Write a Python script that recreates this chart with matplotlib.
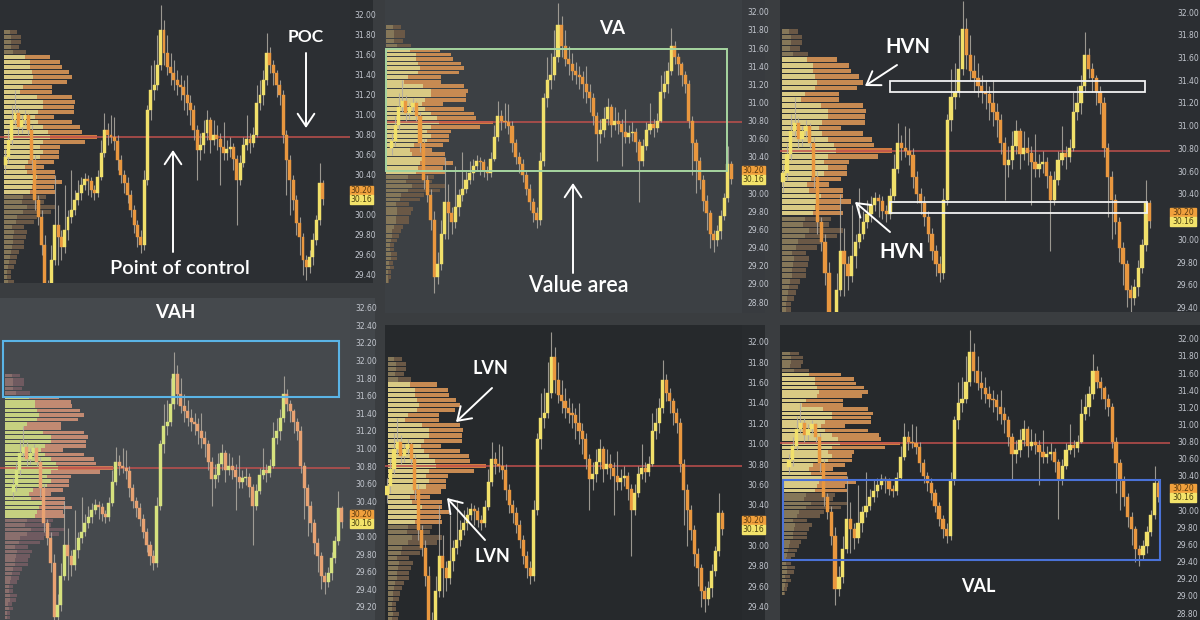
import matplotlib
matplotlib.use('Agg')
import matplotlib.pyplot as plt
from matplotlib.patches import Rectangle
from matplotlib.transforms import blended_transform_factory
import numpy as np

W, H = 1200, 620

# ---------------- data ----------------
first_open = 30.50
closes = [30.58, 30.75, 30.95, 31.02, 30.88, 30.95, 31.00, 30.85, 30.55, 30.15,
          29.98, 29.70, 29.08, 29.22, 29.55, 29.90, 29.78, 29.68, 29.85, 29.98,
          30.05, 30.15, 30.22, 30.30, 30.36, 30.34, 30.25, 30.22, 30.38, 30.62,
          30.85, 30.80, 30.78, 30.74, 30.55, 30.40, 30.32, 30.20, 30.05, 29.90,
          29.78, 29.70, 30.35, 31.05, 31.25, 31.30, 31.50, 31.85, 31.62, 31.48,
          31.42, 31.35, 31.30, 31.28, 31.20, 31.12, 31.05, 30.85, 30.65, 30.70,
          30.82, 30.95, 30.75, 30.80, 30.76, 30.68, 30.62, 30.66, 30.68, 30.56,
          30.35, 30.52, 30.70, 30.76, 30.72, 30.80, 31.12, 31.20, 31.35, 31.62,
          31.50, 31.42, 31.30, 31.20, 30.80, 30.55, 30.35, 30.15, 29.92, 29.78,
          29.55, 29.48, 29.58, 29.75, 29.95, 30.32, 30.16]
highs = [30.66, 30.85, 31.10, 31.25, 31.08, 31.00, 31.05, 31.02, 30.90, 30.60,
         30.20, 30.05, 29.80, 29.35, 29.70, 30.40, 30.10, 29.85, 30.30, 30.05,
         30.45, 30.25, 30.35, 30.38, 30.42, 30.40, 30.38, 30.30, 30.45, 30.75,
         31.02, 30.92, 31.00, 30.98, 30.80, 30.60, 30.45, 30.38, 30.25, 30.10,
         29.95, 29.85, 30.45, 31.10, 31.50, 31.55, 31.80, 32.10, 31.95, 31.80,
         31.62, 31.55, 31.45, 31.40, 31.35, 31.40, 31.20, 31.10, 30.90, 30.82,
         30.95, 31.05, 30.98, 30.95, 30.90, 30.82, 30.93, 30.75, 30.78, 30.72,
         30.60, 30.60, 30.78, 31.00, 30.82, 30.88, 31.30, 31.35, 31.45, 31.82,
         31.68, 31.55, 31.45, 31.35, 31.25, 30.85, 30.60, 30.40, 30.20, 29.98,
         29.82, 29.60, 29.65, 29.82, 30.00, 30.52, 30.35]
lows = [30.42, 30.52, 30.70, 30.90, 30.80, 30.82, 30.90, 30.80, 30.45, 30.05,
        29.90, 29.60, 28.90, 29.00, 29.15, 29.50, 29.50, 29.55, 29.62, 29.75,
        29.92, 30.00, 30.10, 30.15, 30.25, 30.20, 30.18, 30.15, 30.18, 30.35,
        30.58, 30.70, 30.72, 30.65, 30.45, 30.32, 30.22, 30.12, 29.98, 29.82,
        29.68, 29.62, 29.65, 30.30, 30.95, 31.15, 31.25, 31.45, 31.50, 31.40,
        31.30, 31.25, 31.20, 31.15, 31.05, 31.00, 30.90, 30.75, 30.35, 30.55,
        30.62, 30.75, 30.62, 30.70, 30.65, 30.30, 30.55, 30.55, 30.58, 30.45,
        29.90, 30.30, 30.48, 30.65, 30.62, 30.68, 30.78, 31.05, 31.10, 31.30,
        31.42, 31.30, 31.18, 31.10, 30.72, 30.20, 30.00, 30.05, 29.80, 29.60,
        29.40, 29.35, 29.42, 29.50, 29.70, 29.90, 30.10]

profile_prices = [29.03, 29.08, 29.13, 29.18, 29.23, 29.28, 29.33, 29.38, 29.43, 29.48,
                  29.53, 29.58, 29.63, 29.68, 29.73, 29.78, 29.83, 29.88, 29.93, 29.98,
                  30.03, 30.08, 30.13, 30.18, 30.23, 30.28, 30.33, 30.38, 30.43, 30.48,
                  30.53, 30.58, 30.63, 30.68, 30.73, 30.78, 30.83, 30.88, 30.93, 30.98,
                  31.03, 31.08, 31.13, 31.18, 31.23, 31.28, 31.33, 31.38, 31.43, 31.48,
                  31.53, 31.58, 31.63, 31.68, 31.73, 31.78, 31.83]
profile_total = [8, 12, 14, 22, 18, 28, 30, 22, 22, 30,
                 35, 40, 45, 60, 60, 65, 70, 60, 90, 100,
                 140, 155, 120, 125, 155, 150, 175, 155, 155, 120,
                 150, 165, 165, 170, 245, 280, 235, 230, 205, 150,
                 210, 210, 215, 205, 145, 145, 190, 205, 195, 175,
                 170, 140, 65, 45, 50, 50, 40]
profile_up = [4, 5, 6, 10, 8, 12, 13, 10, 10, 13,
              15, 17, 20, 25, 26, 28, 30, 25, 36, 40,
              58, 68, 53, 58, 78, 83, 88, 98, 68, 63,
              73, 108, 118, 108, 118, 138, 133, 118, 103, 93,
              103, 118, 118, 98, 48, 58, 83, 88, 83, 78,
              78, 63, 28, 20, 22, 22, 18]

poc_price = 30.78
va_high = 31.60
va_low = 30.21
last_price_labels = ["30.20", "30.16"]
last_price_level = 30.20

# ---------------- styles ----------------
FIG_BG = '#3a3d40'
STD_CANDLE = ('#f1e06a', '#e9973f')
VAH_CANDLE = ('#d6e27e', '#e8a272')
STD_PROF = dict(va_up='#d9ca84', va_dn='#c78a52', out_up='#857759', out_dn='#6a5846', poc='#d07b42')
VAH_PROF = dict(va_up='#c6d080', va_dn='#c28a72', out_up='#8a6f6d', out_dn='#6f5a60', poc='#c97a58')

panels = [
    dict(box=(0, 0, 350, 373, 283), bg='#2c2f33', axis_bg='#2a2d30',
         ylim=(29.32, 32.15), ticks=(29.40, 32.00), xlim=(-1.54, 104.2),
         prof_off=4, prof_px=93, candle=STD_CANDLE, prof=STD_PROF, pad=3.5, lab_x1=373),
    dict(box=(385, 0, 742, 765, 313), bg='#3c4044', axis_bg='#383b3f',
         ylim=(28.68, 32.13), ticks=(28.80, 32.00), xlim=(-1.9, 99.0),
         prof_off=1, prof_px=107, candle=STD_CANDLE, prof=STD_PROF, pad=4, lab_x1=765),
    dict(box=(780, 0, 1170, 1200, 312), bg='#2b2e32', axis_bg='#2b2e32',
         ylim=(29.36, 32.106), ticks=(29.40, 32.00), xlim=(-0.8, 101.3),
         prof_off=2, prof_px=110, candle=STD_CANDLE, prof=STD_PROF, pad=5, lab_x1=1196),
    dict(box=(0, 298, 350, 375, 620), bg='#45494d', axis_bg='#43474b',
         ylim=(29.05, 32.71), ticks=(29.20, 32.60), xlim=(-3.8, 98.4),
         prof_off=5, prof_px=108, candle=VAH_CANDLE, prof=VAH_PROF, pad=4, lab_x1=373),
    dict(box=(385, 325, 742, 765, 620), bg='#26292c', axis_bg='#282b2e',
         ylim=(29.27, 32.164), ticks=(29.40, 32.00), xlim=(-0.57, 101.7),
         prof_off=3, prof_px=98, candle=STD_CANDLE, prof=STD_PROF, pad=4, lab_x1=765),
    dict(box=(780, 325, 1170, 1200, 620), bg='#26292c', axis_bg='#26292c',
         ylim=(28.72, 32.16), ticks=(28.80, 32.00), xlim=(-2.3, 99.0),
         prof_off=2, prof_px=118, candle=STD_CANDLE, prof=STD_PROF, pad=5, lab_x1=1196),
]

fig = plt.figure(figsize=(12, 6.2), dpi=100)
fig.patch.set_facecolor(FIG_BG)

c = np.array(closes)
o = np.array([first_open] + closes[:-1])
hi = np.array(highs)
lo = np.array(lows)
idx = np.arange(len(c))
pp = np.array(profile_prices)
pt = np.array(profile_total, dtype=float)
pu = np.array(profile_up, dtype=float)

axes = []
for cfg in panels:
    x0, y0, xa, x1, y1 = cfg['box']
    bgax = fig.add_axes([x0 / W, 1 - y1 / H, (x1 - x0) / W, (y1 - y0) / H])
    bgax.set_facecolor(cfg['axis_bg'])
    bgax.set_xticks([]); bgax.set_yticks([])
    for s in bgax.spines.values():
        s.set_visible(False)

    ax = fig.add_axes([x0 / W, 1 - y1 / H, (xa - x0) / W, (y1 - y0) / H])
    ax.set_facecolor(cfg['bg'])
    ax.set_xlim(*cfg['xlim'])
    ax.set_ylim(*cfg['ylim'])
    for s in ax.spines.values():
        s.set_visible(False)
    chart_px = xa - x0
    span = cfg['xlim'][1] - cfg['xlim'][0]
    px2d = span / chart_px

    # volume profile
    k = cfg['prof_px'] * px2d / pt.max()
    left0 = cfg['xlim'][0] + cfg['prof_off'] * px2d
    inva = (pp >= va_low) & (pp <= va_high)
    st = cfg['prof']
    cu = [st['va_up'] if v else st['out_up'] for v in inva]
    cd = [st['poc'] if abs(p - poc_price) < 0.01 else (st['va_dn'] if v else st['out_dn'])
          for p, v in zip(pp, inva)]
    ax.barh(pp, pu * k, left=left0, height=0.041, color=cu, zorder=1, linewidth=0)
    ax.barh(pp, (pt - pu) * k, left=left0 + pu * k, height=0.041, color=cd, zorder=1, linewidth=0)

    # POC line
    ax.axhline(poc_price, color='#c0504d', lw=1.1, zorder=2.2)

    # candles
    upc, dnc = cfg['candle']
    ax.vlines(idx, lo, hi, color='#b0aba2', lw=0.8, alpha=0.85, zorder=2.5)
    body_h = np.maximum(np.abs(c - o), 0.02)
    cols = [upc if cc >= oo else dnc for cc, oo in zip(c, o)]
    ax.bar(idx, body_h, bottom=np.minimum(o, c), width=0.88,
           color=cols, edgecolor=cols, linewidth=0.3, zorder=3)

    # ticks
    t0, t1 = cfg['ticks']
    n = int(round((t1 - t0) / 0.2))
    ticks = [round(t0 + 0.2 * i, 2) for i in range(n + 1)]
    ticks = [t for t in ticks if abs(t - 30.20) > 0.01]
    ax.yaxis.tick_right()
    ax.set_yticks(ticks)
    ax.set_yticklabels([f'{t:.2f}' for t in ticks])
    ax.tick_params(axis='y', length=0, pad=cfg['pad'], labelsize=5.5, labelcolor='#c3c7cf')
    ax.set_xticks([])

    # last price labels
    ppu = (y1 - y0) / (cfg['ylim'][1] - cfg['ylim'][0])
    bh = 9.0 / ppu
    bw = (cfg['lab_x1'] - xa) / chart_px
    tr = blended_transform_factory(ax.transAxes, ax.transData)
    ax.add_patch(Rectangle((1.0, last_price_level), bw, bh, transform=tr, color='#f0a03c',
                           clip_on=False, zorder=6))
    ax.add_patch(Rectangle((1.0, last_price_level - bh), bw, bh, transform=tr, color='#f3e36a',
                           clip_on=False, zorder=6))
    ax.text(1.0 + bw / 2, last_price_level + bh / 2, last_price_labels[0], transform=tr,
            ha='center', va='center', fontsize=5.5, color='#5a3a10', zorder=7, clip_on=False)
    ax.text(1.0 + bw / 2, last_price_level - bh / 2, last_price_labels[1], transform=tr,
            ha='center', va='center', fontsize=5.5, color='#4a4010', zorder=7, clip_on=False)
    axes.append(ax)


def rect(ax, fx0, fx1, p0, p1, color, lw):
    tr = blended_transform_factory(ax.transAxes, ax.transData)
    ax.add_patch(Rectangle((fx0, p0), fx1 - fx0, p1 - p0, transform=tr, fill=False,
                           edgecolor=color, lw=lw, zorder=5, clip_on=False))

# highlight boxes
rect(axes[1], 0.003, 0.958, 30.25, 31.59, '#a6d6a0', 1.4)
rect(axes[2], 0.282, 0.936, 31.30, 31.39, '#f2f2f2', 1.3)
rect(axes[2], 0.282, 0.941, 30.23, 30.33, '#f2f2f2', 1.3)
rect(axes[3], 0.009, 0.969, 31.58, 32.22, '#5ab4e6', 1.5)
rect(axes[5], 0.008, 0.974, 29.42, 30.35, '#4a72d8', 1.5)

# overlay for annotations
ov = fig.add_axes([0, 0, 1, 1])
ov.set_xlim(0, W); ov.set_ylim(H, 0)
ov.axis('off')
ov.patch.set_visible(False)

MED = dict(family='Lato', color='white', weight='semibold', ha='center', va='center')
BLD = dict(family='Lato', color='white', weight='bold', ha='center', va='center')
ov.text(180, 268, 'Point of control', fontsize=14.5, **MED)
ov.text(306, 37, 'POC', fontsize=12.5, **BLD)
ov.text(612, 29, 'VA', fontsize=13.5, **BLD)
ov.text(578, 286, 'Value area', fontsize=15.5, **MED)
ov.text(908, 47, 'HVN', fontsize=14.5, **BLD)
ov.text(902, 252, 'HVN', fontsize=14.5, **BLD)
ov.text(175, 313, 'VAH', fontsize=13.5, **BLD)
ov.text(490, 368, 'LVN', fontsize=13, **BLD)
ov.text(492, 557, 'LVN', fontsize=13, **BLD)
ov.text(978, 587, 'VAL', fontsize=13, **BLD)

AP = dict(arrowstyle='->,head_length=0.45,head_width=0.3', color='white', lw=1.4,
          shrinkA=0, shrinkB=0, mutation_scale=20)
for (tx, ty), (hx, hy) in [((306, 53), (306, 128)), ((173, 252), (173, 150)),
                           ((573, 273), (573, 183)), ((897, 65), (865, 86)),
                           ((890, 232), (855, 202)), ((492, 388), (456, 422)),
                           ((485, 540), (447, 498))]:
    ov.annotate('', xy=(hx, hy), xytext=(tx, ty), arrowprops=AP)

fig.savefig('out.png', dpi=100, facecolor=FIG_BG)
